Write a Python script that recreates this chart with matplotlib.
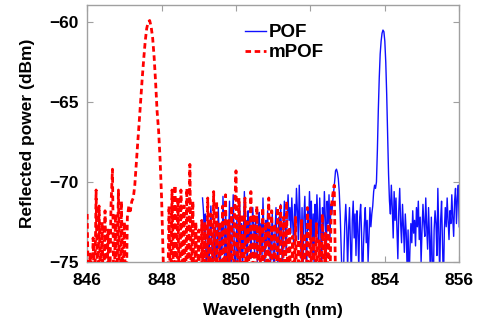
import numpy as np
import matplotlib
matplotlib.use("Agg")
import matplotlib.pyplot as plt

# ---------------- data ----------------
RED_STEP = 0.04
# mPOF spectrum segments: (start wavelength, dBm values)
mpof_segments = [
    (846.00, [-72.0, -78, -74.5, -79, -73.5, -78, -70.5, -78, -71.5, -77,
              -72.5, -78, -71.8, -79, -73.0, -78, -71.5, -69.2, -78, -72.0,
              -77, -70.5, -78, -71.2, -77, -72.5, -79, -72.2]),
    (847.12, [-71.5, -71.8, -71.2, -71.0, -70.2, -68.8, -67.5, -66.2, -64.8, -63.5,
              -62.3, -61.2, -60.4, -60.0, -59.9, -60.3, -61.0, -62.2, -63.8, -65.6,
              -66.8, -68.6, -71.0, -74.5, -78, -80, -78]),
    (848.20, [-71.5, -78, -70.5, -76.0, -70.2, -78, -71.0, -79, -70.5, -77,
              -71.5, -78, -70.4, -79, -68.9, -78, -71.2, -79, -72.5, -78,
              -73.0, -79, -72.4, -77, -72.5]),
    (849.20, [-79, -71.0, -78, -72.0, -77, -70.6, -78, -71.2, -79, -72.5,
              -77, -71.5, -78, -70.8, -79, -72.4, -77, -71.5, -78, -72.0,
              -69.3, -78, -71.0, -77, -72.0]),
    (850.20, [-79, -71.0, -78, -72.5, -77, -70.6, -78, -72.0, -79, -71.5,
              -77, -72.8, -78, -71.6, -79, -72.5, -77, -71.0, -78, -71.8,
              -79, -72.6, -77, -71.6, -78]),
    (851.20, [-71.5, -79, -72.2, -77, -71.2, -78, -72.8, -79, -73.4, -77,
              -72.2, -78, -73.6, -79, -72.4, -77, -73.2, -78, -71.6, -79,
              -72.4, -77, -73.5, -78, -72.6]),
    (852.20, [-79, -73.6, -77, -72.0, -78, -73.2, -79, -72.6, -77, -71.6,
              -70.8, -70.2, -77]),
]

BLUE_STEP = 0.025
# POF spectrum segments: (start wavelength, dBm values)
pof_segments = [
    (849.10, [-71.0, -71.8, -73.5, -72.0, -76.0, -74.5, -72.8, -75.5, -73.0, -71.5,
              -74.0, -76.0, -73.2, -74.8, -72.5, -75.8, -74.0, -71.6, -73.8, -76.0]),
    (849.60, [-72.6, -74.5, -70.9, -73.0, -75.5, -72.0, -74.8, -76.0, -73.5, -71.2,
              -74.2, -75.5, -72.8, -70.8, -73.6, -76.0, -74.4, -72.2, -75.2, -73.0]),
    (850.10, [-71.4, -74.5, -72.6, -75.8, -73.2, -70.6, -74.0, -72.4, -75.5, -71.8,
              -73.6, -72.2, -74.8, -73.0, -71.6, -72.8, -74.5, -72.3, -73.4, -75.0]),
    (850.60, [-72.5, -71.9, -73.8, -72.6, -74.6, -71.0, -73.2, -75.6, -72.4, -73.8,
              -71.8, -74.2, -72.6, -75.8, -73.5, -72.0, -74.4, -76.0, -73.0, -71.6]),
    (851.10, [-73.8, -75.5, -72.2, -74.0, -71.4, -73.5, -75.8, -72.6, -71.2, -73.0,
              -74.6, -72.0, -70.8, -72.4, -71.6, -73.2, -71.0, -72.6, -74.0, -71.4]),
    (851.60, [-72.8, -70.4, -71.8, -73.6, -70.2, -72.4, -74.8, -71.6, -76.0, -72.2,
              -70.9, -73.4, -75.5, -71.8, -73.0, -70.6, -72.4, -71.2, -74.6, -72.0]),
    (852.10, [-75.6, -71.4, -73.2, -70.8, -72.6, -74.2, -71.0, -72.8, -76.0, -71.6,
              -73.4, -70.6, -72.2, -74.8, -71.2, -72.6, -70.8, -73.6, -71.4, -72.0]),
    (852.60, [-71.2, -70.6, -70.0, -69.3, -69.2, -69.4, -69.8, -70.6, -72.0, -74.0,
              -76.0, -78.0, -74.5, -72.6, -71.4, -72.8, -75.5, -73.0, -71.6, -73.8]),
    (853.10, [-76.0, -72.4, -71.2, -73.5, -72.0, -74.6, -71.8, -73.0, -75.5, -72.2,
              -71.4, -73.2, -77.0, -74.0, -72.6, -71.6, -73.8, -72.4, -75.0, -73.4]),
    (853.60, [-71.6, -72.8, -72.0, -71.5, -70.6, -70.2, -70.4, -70.0, -68.0, -65.5,
              -63.5, -62.0, -61.2, -60.7, -60.5, -60.6, -61.2, -62.5, -64.5, -67.0]),
    (854.10, [-69.5, -71.2, -72.0, -70.2, -71.6, -73.5, -70.6, -72.4, -71.0, -73.0,
              -74.8, -71.8, -70.4, -72.6, -73.8, -71.4, -72.8, -74.4, -72.0, -73.2]),
    (854.60, [-75.5, -73.0, -76.5, -74.2, -72.6, -73.8, -71.8, -73.2, -72.4, -74.0,
              -71.6, -72.8, -71.2, -73.6, -72.2, -75.0, -73.0, -71.4, -72.6, -73.4]),
    (855.10, [-71.0, -72.8, -74.2, -71.6, -73.4, -76.0, -72.2, -74.8, -77.0, -73.0,
              -71.8, -72.6, -74.6, -70.4, -73.2, -75.8, -72.4, -71.2, -73.8, -76.5]),
    (855.60, [-73.0, -71.6, -72.8, -71.0, -72.4, -73.6, -71.8, -72.6, -70.8, -72.2,
              -73.4, -71.2, -70.4, -72.6, -71.0, -70.2, -72.8]),
]

x_ticks = [846, 848, 850, 852, 854, 856]
y_ticks = [-75, -70, -65, -60]


def build(segments, step):
    xs, ys = [], []
    for start, vals in segments:
        xs.extend(start + step * np.arange(len(vals)))
        ys.extend(vals)
    return np.array(xs), np.array(ys)


pof_x, pof_y = build(pof_segments, BLUE_STEP)
mpof_x, mpof_y = build(mpof_segments, RED_STEP)

# ---------------- plot ----------------
plt.rcParams['font.family'] = ['Liberation Sans', 'DejaVu Sans']
plt.rcParams['font.weight'] = 'bold'

fig = plt.figure(figsize=(4.87, 3.21), dpi=100)
ax = fig.add_axes([0.179, 0.184, 0.764, 0.800])

ax.plot(pof_x, pof_y, color='#1010ff', lw=1.0, label='POF', zorder=2)
ax.plot(mpof_x, mpof_y, color='#ff0000', lw=2.0, linestyle=(0, (2.0, 1.3)),
        label='mPOF', zorder=3)

ax.set_xlim(846, 856)
ax.set_ylim(-75, -58.94)
ax.set_xticks(x_ticks)
ax.set_yticks(y_ticks)
ax.set_yticklabels(['\u221275', '\u221270', '\u221265', '\u221260'])

for sp in ax.spines.values():
    sp.set_color('#a0a0a0')
    sp.set_linewidth(1.0)
ax.tick_params(direction='in', length=4, color='#a0a0a0', top=True, right=True,
               labelsize=12.5)
ax.tick_params(axis='x', pad=8)
ax.tick_params(axis='y', pad=6)
for lab in ax.get_xticklabels() + ax.get_yticklabels():
    lab.set_fontweight('bold')

ax.set_xlabel('Wavelength (nm)', fontsize=12.5, fontweight='bold', labelpad=11)
ax.set_ylabel('Reflected power (dBm)', fontsize=12.5, fontweight='bold', labelpad=10)

leg = ax.legend(loc='upper left', bbox_to_anchor=(0.425, 0.926), frameon=False,
                fontsize=13.5, handlelength=1.1, handletextpad=0.15,
                labelspacing=0.15, borderaxespad=0.0, borderpad=0.0)
for t in leg.get_texts():
    t.set_fontweight('bold')

fig.savefig('out.png', dpi=100)
